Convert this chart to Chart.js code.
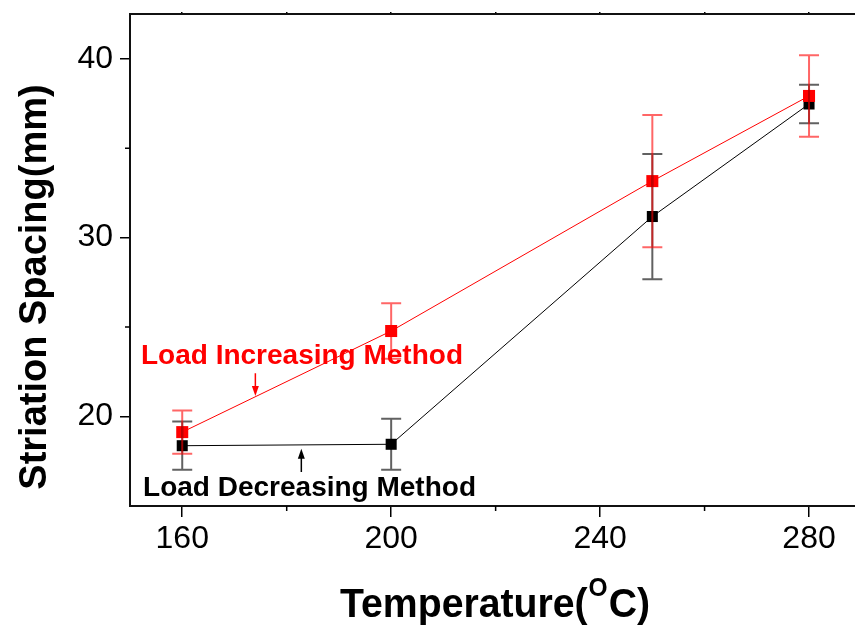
<!DOCTYPE html>
<html>
<head>
<meta charset="utf-8">
<script src="https://cdn.jsdelivr.net/npm/chart.js@4.4.1/dist/chart.umd.min.js"></script>
<style>
  html, body { margin: 0; padding: 0; background: #fff; overflow: hidden; }
  #wrap { width: 855px; height: 631px; }
</style>
</head>
<body>
<div id="wrap"><canvas id="chart" width="855" height="631"></canvas></div>
<script>
/* striation spacing vs temperature */

const temps         = [160, 200, 250, 280];
const increasing    = [19.13, 24.78, 33.16, 37.92];
const increasingErr = [1.21, 1.55, 3.70, 2.28];
const decreasing    = [18.37, 18.45, 31.18, 37.47];
const decreasingErr = [1.35, 1.42, 3.50, 1.07];

const xTickLabels = [160, 200, 240, 280];
const yTickLabels = [20, 30, 40];

const incLabel = 'Load Increasing Method';
const decLabel = 'Load Decreasing Method';
const xTitle   = 'Temperature(';
const yTitle   = 'Striation Spacing(mm)';

// annotation anchors, in data units
const incText  = { x: 152.1, y: 23.37 };
const decText  = { x: 152.5, y: 16.0 };
const incArrow = { x: 174, from: 22.42, to: 21.15 };
const decArrow = { x: 182.8, from: 16.9, to: 18.2 };

const RED = '#ff0000';
const BLACK = '#000000';
const FONT = '"Liberation Sans", Arial, sans-serif';

const errorBars = {
  id: 'errorBars',
  afterDatasetsDraw(chart) {
    const { ctx, scales: { x, y } } = chart;
    const sets = [
      { vals: decreasing, errs: decreasingErr, color: 'rgba(0,0,0,0.62)' },
      { vals: increasing, errs: increasingErr, color: 'rgba(255,0,0,0.6)' },
    ];
    ctx.save();
    sets.forEach(s => {
      ctx.strokeStyle = s.color;
      ctx.lineWidth = 2;
      temps.forEach((t, i) => {
        const px = x.getPixelForValue(t);
        const top = y.getPixelForValue(s.vals[i] + s.errs[i]);
        const bot = y.getPixelForValue(s.vals[i] - s.errs[i]);
        ctx.beginPath();
        ctx.moveTo(px, top); ctx.lineTo(px, bot);
        ctx.moveTo(px - 10, top); ctx.lineTo(px + 10, top);
        ctx.moveTo(px - 10, bot); ctx.lineTo(px + 10, bot);
        ctx.stroke();
      });
    });
    ctx.restore();
  },
};

// short minor ticks halfway between the labelled ones
const minorTicks = {
  id: 'minorTicks',
  afterDraw(chart) {
    const { ctx, scales: { x, y } } = chart;
    ctx.save();
    ctx.strokeStyle = BLACK; ctx.lineWidth = 1.5;
    ctx.beginPath();
    for (let i = 0; i < xTickLabels.length - 1; i++) {
      const px = x.getPixelForValue((xTickLabels[i] + xTickLabels[i + 1]) / 2);
      ctx.moveTo(px, x.top); ctx.lineTo(px, x.top + 5);
    }
    for (let i = 0; i < yTickLabels.length - 1; i++) {
      const py = y.getPixelForValue((yTickLabels[i] + yTickLabels[i + 1]) / 2);
      ctx.moveTo(y.right, py); ctx.lineTo(y.right - 5, py);
    }
    ctx.stroke();
    ctx.restore();
  },
};

function arrow(ctx, x, y1, y2, color) {
  const dir = y2 > y1 ? 1 : -1;
  ctx.strokeStyle = color; ctx.fillStyle = color; ctx.lineWidth = 1.5;
  ctx.beginPath(); ctx.moveTo(x, y1); ctx.lineTo(x, y2 - dir * 8); ctx.stroke();
  ctx.beginPath();
  ctx.moveTo(x, y2); ctx.lineTo(x - 3.5, y2 - dir * 10); ctx.lineTo(x + 3.5, y2 - dir * 10);
  ctx.closePath(); ctx.fill();
}

const labels = {
  id: 'labels',
  afterDraw(chart) {
    const { ctx, scales: { x, y } } = chart;
    ctx.save();
    ctx.textBaseline = 'middle';
    ctx.textAlign = 'left';
    ctx.font = 'bold 28px ' + FONT;
    ctx.fillStyle = RED;
    ctx.fillText(incLabel, x.getPixelForValue(incText.x), y.getPixelForValue(incText.y));
    ctx.fillStyle = BLACK;
    ctx.fillText(decLabel, x.getPixelForValue(decText.x), y.getPixelForValue(decText.y));

    arrow(ctx, x.getPixelForValue(incArrow.x), y.getPixelForValue(incArrow.from), y.getPixelForValue(incArrow.to), RED);
    arrow(ctx, x.getPixelForValue(decArrow.x), y.getPixelForValue(decArrow.from), y.getPixelForValue(decArrow.to), BLACK);

    // x title, condensed, with superscript O
    ctx.fillStyle = BLACK;
    const big = 'bold 40px ' + FONT;
    const small = 'bold 25px ' + FONT;
    ctx.font = big;
    const w1 = ctx.measureText(xTitle).width;
    const w3 = ctx.measureText('C)').width;
    ctx.font = small;
    const w2 = ctx.measureText('O').width + 2;
    const total = w1 + w2 + w3;
    const sx = 310 / total;
    ctx.save();
    ctx.translate(495 - 155, 606);
    ctx.scale(sx, 1);
    ctx.font = big;
    ctx.fillText(xTitle, 0, 0);
    ctx.font = small;
    ctx.fillText('O', w1 + 1, -17);
    ctx.font = big;
    ctx.fillText('C)', w1 + w2, 0);
    ctx.restore();

    // y title
    ctx.translate(36, 287);
    ctx.rotate(-Math.PI / 2);
    ctx.textAlign = 'center';
    ctx.font = 'bold 38px ' + FONT;
    ctx.fillText(yTitle, 0, 0);
    ctx.restore();
  },
};

const axisGrid = { display: true, drawOnChartArea: false, drawTicks: true, tickLength: 11, color: BLACK, lineWidth: 1.5 };
const axisBorder = { display: true, color: '#111', width: 2 };

new Chart(document.getElementById('chart'), {
  type: 'line',
  data: {
    datasets: [
      {
        label: incLabel,
        data: temps.map((t, i) => ({ x: t, y: increasing[i] })),
        borderColor: RED, backgroundColor: RED, borderWidth: 1,
        pointStyle: 'rect', pointRadius: 8.5, pointBorderWidth: 0, tension: 0,
      },
      {
        label: decLabel,
        data: temps.map((t, i) => ({ x: t, y: decreasing[i] })),
        borderColor: BLACK, backgroundColor: BLACK, borderWidth: 1,
        pointStyle: 'rect', pointRadius: 7.8, pointBorderWidth: 0, tension: 0,
      },
    ],
  },
  options: {
    responsive: false, animation: false,
    layout: { padding: 0, autoPadding: false },
    plugins: { legend: { display: false }, tooltip: { enabled: false } },
    scales: {
      x: {
        type: 'linear', position: 'bottom', min: 150, max: 288.8,
        afterBuildTicks: s => { s.ticks = xTickLabels.map(v => ({ value: v })); },
        afterFit: s => { s.height = 125; s.paddingLeft = 0; s.paddingRight = 0; },
        ticks: {
          padding: 3, color: BLACK, maxRotation: 0, autoSkip: false,
          font: { family: FONT, size: 32 },
        },
        grid: axisGrid, border: axisBorder,
      },
      x2: {
        type: 'linear', position: 'top', min: 150, max: 288.8,
        afterBuildTicks: s => {
          s.ticks = [];
          for (let v = Math.ceil(s.min / 20) * 20; v <= s.max; v += 20) s.ticks.push({ value: v });
        },
        afterFit: s => { s.height = 14; s.paddingLeft = 0; s.paddingRight = 0; },
        ticks: { display: false },
        grid: { ...axisGrid, tickLength: 2 }, border: axisBorder,
      },
      y: {
        type: 'linear', position: 'left', min: 15, max: 42.5,
        afterBuildTicks: s => { s.ticks = yTickLabels.map(v => ({ value: v })); },
        afterFit: s => { s.width = 130; s.paddingTop = 0; s.paddingBottom = 0; },
        ticks: {
          padding: 7, color: BLACK, autoSkip: false,
          font: { family: FONT, size: 32 },
        },
        grid: { ...axisGrid, tickLength: 10 }, border: axisBorder,
      },
    },
  },
  plugins: [errorBars, minorTicks, labels],
});
</script>
</body>
</html>
